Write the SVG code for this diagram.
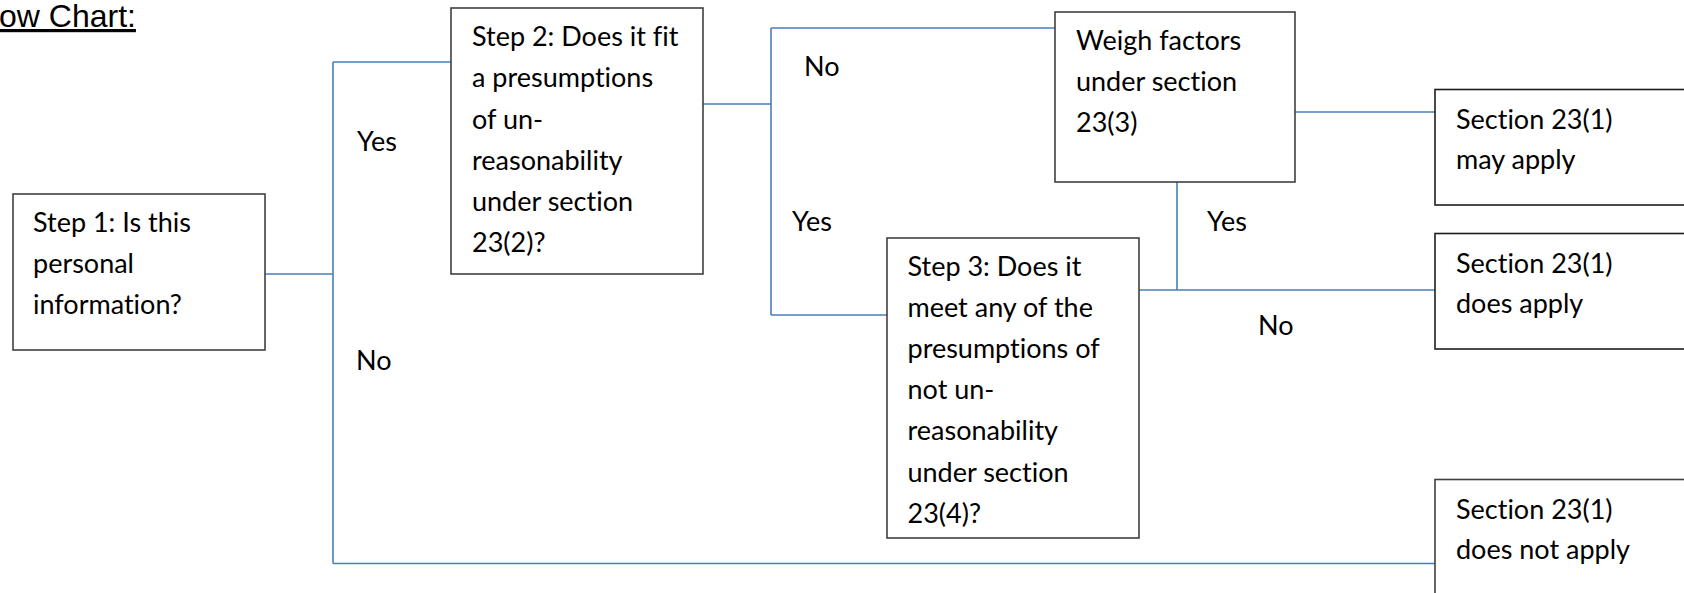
<svg xmlns="http://www.w3.org/2000/svg" width="1684" height="593" viewBox="0 0 1684 593">
<style>
.box{fill:#fff;stroke:#404040;stroke-width:1.6}
.box2{fill:#fff;stroke:#1e1e1e;stroke-width:1.6}
.t{font-family:Lato,"Liberation Sans",sans-serif;font-size:27px;fill:#000;font-variant-ligatures:none}
.conn{fill:none;stroke:#4a7ebb;stroke-width:1.6}
.title{font-family:"Liberation Sans",Arial,sans-serif;font-size:32px;fill:#000;text-decoration:underline}
</style>
<rect width="1684" height="593" fill="#fff"/>
<text class="title" x="-1" y="27">ow Chart:</text>
<g id="connectors">
<path class="conn" d="M265 274H333M333 62V563.5M333 62H451M333 563.5H1435"/>
<path class="conn" d="M703 104H771M771 28V315M771 28H1055M771 315H887"/>
<path class="conn" d="M1295 112H1435"/>
<path class="conn" d="M1177 182V290M1139 290H1435"/>
<text class="t" x="357" y="150.5">Yes</text>
<text class="t" x="356" y="370">No</text>
<text class="t" x="804" y="76">No</text>
<text class="t" x="792" y="231">Yes</text>
<text class="t" x="1207" y="231">Yes</text>
<text class="t" x="1258" y="335">No</text>
</g>
<g id="step1">
<rect class="box" x="13" y="194" width="252" height="156"/>
<text class="t" x="33"><tspan x="33" y="232">Step 1: Is this</tspan><tspan x="33" y="273">personal</tspan><tspan x="33" y="314">information?</tspan></text>
</g>
<g id="step2">
<rect class="box" x="451" y="8" width="252" height="266"/>
<text class="t"><tspan x="472" y="46">Step 2: Does it fit</tspan><tspan x="472" y="87.3">a presumptions</tspan><tspan x="472" y="128.5">of un-</tspan><tspan x="472" y="169.5">reasonability</tspan><tspan x="472" y="210.7">under section</tspan><tspan x="472" y="251.7">23(2)?</tspan></text>
</g>
<g id="weigh">
<rect class="box" x="1055" y="12" width="240" height="170"/>
<text class="t"><tspan x="1076" y="50">Weigh factors</tspan><tspan x="1076" y="91">under section</tspan><tspan x="1076" y="132">23(3)</tspan></text>
</g>
<g id="step3">
<rect class="box" x="887" y="238" width="252" height="300"/>
<text class="t"><tspan x="907.5" y="276">Step 3: Does it</tspan><tspan x="907.5" y="317">meet any of the</tspan><tspan x="907.5" y="358">presumptions of</tspan><tspan x="907.5" y="399.3">not un-</tspan><tspan x="907.5" y="440.3">reasonability</tspan><tspan x="907.5" y="481.5">under section</tspan><tspan x="907.5" y="522.7">23(4)?</tspan></text>
</g>
<g id="may-apply">
<rect class="box2" x="1435" y="89.5" width="265" height="115.5"/>
<text class="t"><tspan x="1456" y="128.5">Section 23(1)</tspan><tspan x="1456" y="169">may apply</tspan></text>
</g>
<g id="does-apply">
<rect class="box2" x="1435" y="233.5" width="265" height="115.5"/>
<text class="t"><tspan x="1456" y="272.5">Section 23(1)</tspan><tspan x="1456" y="313">does apply</tspan></text>
</g>
<g id="does-not-apply">
<rect class="box" x="1435" y="479.5" width="265" height="140"/>
<text class="t"><tspan x="1456" y="518.5">Section 23(1)</tspan><tspan x="1456" y="558.5">does not apply</tspan></text>
</g>
</svg>
